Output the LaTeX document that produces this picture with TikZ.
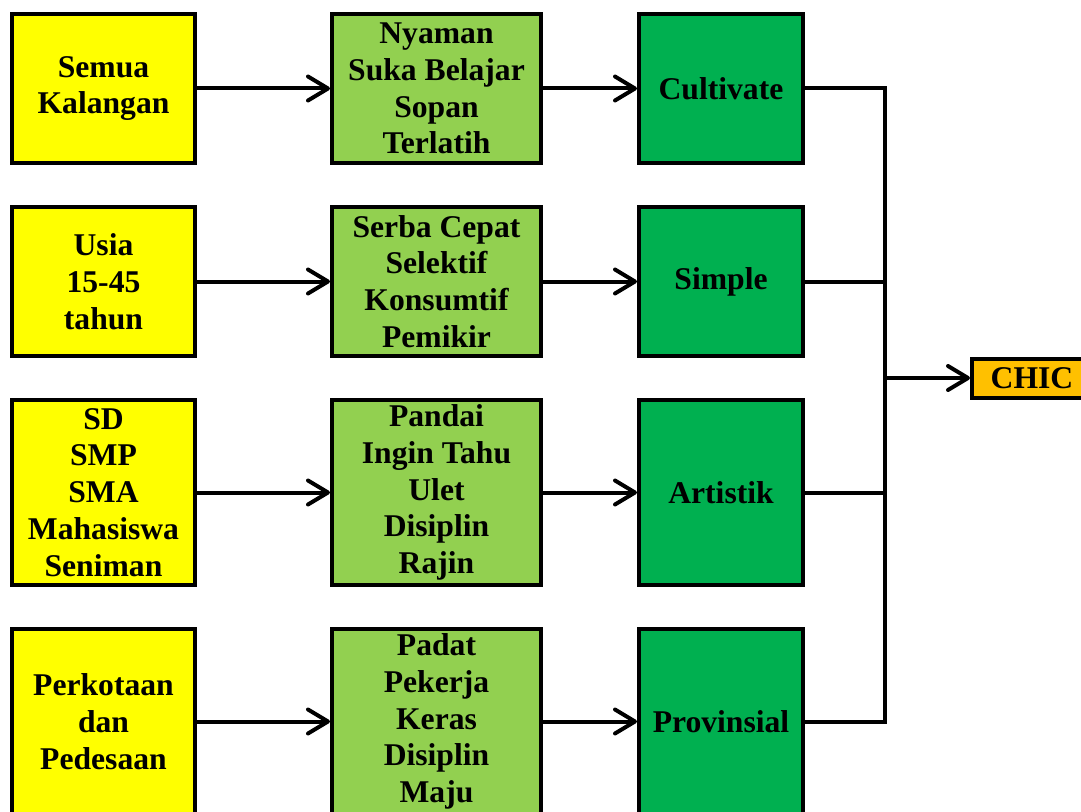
\documentclass[tikz,border=0pt]{standalone}
\usepackage{fontspec}
\setmainfont{Liberation Serif}
\usetikzlibrary{arrows.meta,positioning,calc}
\definecolor{BoxYellow}{HTML}{FFFF00}
\definecolor{BoxLime}{HTML}{92D050}
\definecolor{BoxGreen}{HTML}{00B050}
\definecolor{BoxOrange}{HTML}{FFC000}
\tikzset{
  BX/.style={rectangle,draw=black,line width=0.1cm,
             text centered,align=center,inner sep=2pt,
             font=\fontsize{22.5}{26.2}\selectfont\bfseries},
  nY/.style={BX,fill=BoxYellow,minimum width=4.575cm},
  nL/.style={BX,fill=BoxLime,  minimum width=5.225cm},
  nD/.style={BX,fill=BoxGreen, minimum width=4.1cm},
  nO/.style={BX,fill=BoxOrange,minimum width=3cm,minimum height=0.975cm},
  hS/.style={minimum height=3.725cm},
  hT/.style={minimum height=4.625cm},
  arr/.style={-{Straight Barb[length=0.5cm,width=0.6cm,round]},line width=0.1cm},
  ln/.style={line width=0.1cm}
}
\begin{document}
\begin{tikzpicture}
  \useasboundingbox (0,0) rectangle (27.025,-20.3);
  \clip (0,0) rectangle (27.025,-20.3);

  % segmen
  \node[nY,hS,anchor=north west] (y1) at (0.25,-0.3) {Semua\\Kalangan};
  \node[nY,hS,below=1cm of y1] (y2) {Usia\\15-45\\tahun};
  \node[nY,hT,below=1cm of y2] (y3) {SD\\SMP\\SMA\\Mahasiswa\\Seniman};
  \node[nY,hT,below=1cm of y3] (y4) {Perkotaan\\dan\\Pedesaan};

  % karakter
  \node[nL,hS,right=3.325cm of y1] (l1) {Nyaman\\Suka Belajar\\Sopan\\Terlatih};
  \node[nL,hS,right=3.325cm of y2] (l2) {Serba Cepat\\Selektif\\Konsumtif\\Pemikir};
  \node[nL,hT,right=3.325cm of y3] (l3) {Pandai\\Ingin Tahu\\Ulet\\Disiplin\\Rajin};
  \node[nL,hT,right=3.325cm of y4] (l4) {Padat\\Pekerja\\Keras\\Disiplin\\Maju};

  % konsep
  \node[nD,hS,right=2.35cm of l1] (d1) {Cultivate};
  \node[nD,hS,right=2.35cm of l2] (d2) {Simple};
  \node[nD,hT,right=2.35cm of l3] (d3) {Artistik};
  \node[nD,hT,right=2.35cm of l4] (d4) {Provinsial};

  \coordinate[right=2cm of d1.east] (bus);
  \path (d2.south) -- (d3.north) coordinate[midway] (gapM);
  \coordinate (busM) at (bus |- gapM);
  \node[nO,right=2.125cm of busM] (chic) {CHIC};

  \draw[arr] (y1) -- (l1);
  \draw[arr] (y2) -- (l2);
  \draw[arr] (y3) -- (l3);
  \draw[arr] (y4) -- (l4);
  \draw[arr] (l1) -- (d1);
  \draw[arr] (l2) -- (d2);
  \draw[arr] (l3) -- (d3);
  \draw[arr] (l4) -- (d4);

  \draw[ln] (d1.east) -| (bus |- d4.east) -- (d4.east);
  \draw[ln] (d2.east) -- (bus |- d2.east);
  \draw[ln] (d3.east) -- (bus |- d3.east);
  \draw[arr] (busM) -- (chic);
\end{tikzpicture}
\end{document}
